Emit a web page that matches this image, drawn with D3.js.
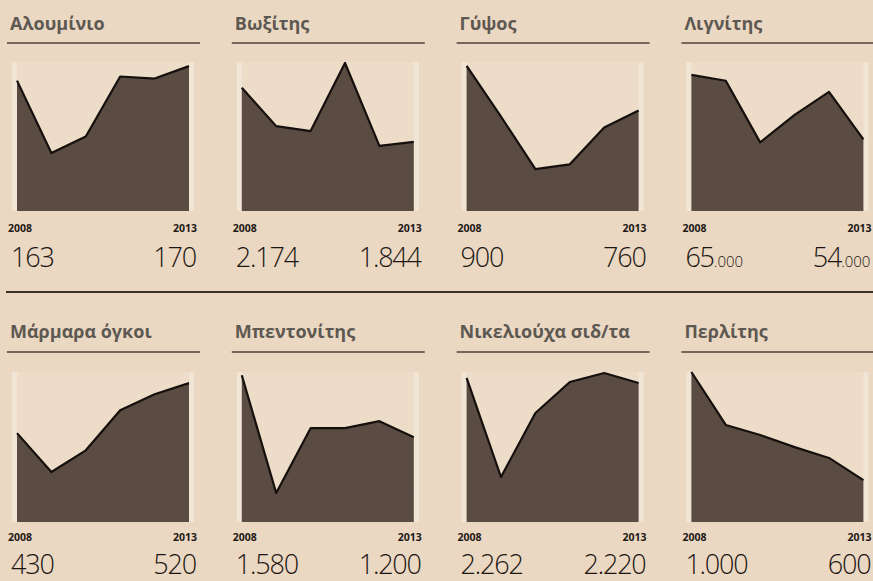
<!DOCTYPE html>
<html>
<head>
<meta charset="utf-8">
<script src="https://cdn.jsdelivr.net/npm/d3@7"></script>
<style>
  html, body { margin: 0; padding: 0; background: #ebd8c2; }
  svg { display: block; }
</style>
</head>
<body>
<div id="chart"></div>
<script>
// Minerals production 2008-2013 (small multiples)
const years = [2008, 2009, 2010, 2011, 2012, 2013];
const minerals = ["Αλουμίνιο", "Βωξίτης", "Γύψος", "Λιγνίτης",
                  "Μάρμαρα όγκοι", "Μπεντονίτης", "Νικελιούχα σιδ/τα", "Περλίτης"];

const aluminium = [163, 128, 136, 165, 164, 170];
const bauxite   = [2174, 1940, 1910, 2324, 1820, 1844];
const gypsum    = [900, 741, 577, 592, 707, 760];
const lignite   = [65000, 64000, 53500, 58200, 62100, 54000];
const marble    = [430, 360, 399, 471, 500, 520];
const bentonite = [1580, 857, 1255, 1255, 1298, 1200];
const nickel    = [2262, 1430, 1968, 2228, 2304, 2220];
const perlite   = [1000, 804, 767, 722, 682, 600];

// value at the bottom and at the top of each little plot
const domains = [[100, 172], [1424, 2330], [446, 912], [41800, 67200],
                 [270, 540], [679, 1600], [1052, 2312], [445, 1000]];

// the lignite figures are printed with a small ".000"
const smallThousands = ["Λιγνίτης"];

const series = [aluminium, bauxite, gypsum, lignite, marble, bentonite, nickel, perlite];

const width = 873, height = 581;
const locale = d3.formatLocale({ decimal: ",", thousands: ".", grouping: [3], currency: ["", "€"] });
const fmt = locale.format(",d");

const svg = d3.select("#chart").append("svg")
    .attr("width", width)
    .attr("height", height);

svg.append("rect")
    .attr("width", width)
    .attr("height", height)
    .attr("fill", "#ebd8c2");

// row layout
const rows = [
    { title: 30, rule: 43, top: 62, bottom: 211, year: 232, num: 267 },
    { title: 338, rule: 352, top: 372, bottom: 522, year: 541, num: 574 }
];
const colStep = 224.8, panelW = 193;

// separator between the rows
svg.append("line")
    .attr("x1", 6).attr("x2", width)
    .attr("y1", 292).attr("y2", 292)
    .attr("stroke", "#3b3029")
    .attr("stroke-width", 2);

minerals.forEach((name, i) => {
    const row = rows[Math.floor(i / 4)];
    const x0 = 7 + (i % 4) * colStep;
    const values = series[i];
    const g = svg.append("g").attr("transform", `translate(${x0},0)`);

    const x = d3.scalePoint()
        .domain(years)
        .range([10, 182]);

    const y = d3.scaleLinear()
        .domain(domains[i])
        .range([row.bottom, row.top]);

    // title + rule
    g.append("text")
        .attr("x", 3)
        .attr("y", row.title)
        .attr("font-family", "'Open Sans', 'DejaVu Sans', sans-serif")
        .attr("font-weight", 700)
        .attr("font-size", 18)
        .attr("fill", "#5e5852")
        .text(name);

    g.append("line")
        .attr("x1", 0).attr("x2", panelW)
        .attr("y1", row.rule).attr("y2", row.rule)
        .attr("stroke", "#4d433b")
        .attr("stroke-width", 1.3);

    // faint plot background, a little lighter at the edges
    g.append("rect")
        .attr("x", 5)
        .attr("y", row.top)
        .attr("width", 182)
        .attr("height", row.bottom - row.top)
        .attr("fill", "#ecdcc8");
    [5, 182].forEach(sx => g.append("rect")
        .attr("x", sx)
        .attr("y", row.top)
        .attr("width", 5)
        .attr("height", row.bottom - row.top)
        .attr("fill", "#f1e5d6"));

    const pts = years.map((yr, k) => ({ year: yr, value: values[k] }));

    const area = d3.area()
        .x(d => x(d.year))
        .y0(row.bottom)
        .y1(d => y(d.value));

    const line = d3.line()
        .x(d => x(d.year))
        .y(d => y(d.value));

    g.append("path")
        .datum(pts)
        .attr("d", area)
        .attr("fill", "#5a4c43");

    g.append("path")
        .datum(pts)
        .attr("d", line)
        .attr("fill", "none")
        .attr("stroke", "#15100d")
        .attr("stroke-width", 2.2)
        .attr("stroke-linejoin", "round");

    // year labels
    const yearText = (txt, xx, anchor) => g.append("text")
        .attr("x", xx)
        .attr("y", row.year)
        .attr("text-anchor", anchor)
        .attr("font-family", "'Open Sans', 'DejaVu Sans', sans-serif")
        .attr("font-weight", 700)
        .attr("font-size", 10.5)
        .attr("fill", "#1e1915")
        .text(txt);
    yearText(years[0], 1, "start");
    yearText(years[years.length - 1], 190, "end");

    // first / last values
    const numText = (v, xx, anchor) => {
        const t = g.append("text")
            .attr("x", xx)
            .attr("y", row.num)
            .attr("text-anchor", anchor)
            .attr("font-family", "'Open Sans', 'Liberation Sans', sans-serif")
            .attr("font-weight", 300)
            .attr("font-size", 27)
            .attr("letter-spacing", -1.2)
            .attr("fill", "#1c1613");
        const s = fmt(v);
        if (smallThousands.includes(name)) {
            const cut = s.indexOf(".");
            t.append("tspan").text(s.slice(0, cut));
            t.append("tspan").attr("font-size", 15).attr("letter-spacing", 0).text(s.slice(cut));
        } else {
            t.text(s);
        }
    };
    numText(values[0], 4, "start");
    numText(values[values.length - 1], 189, "end");
});
</script>
</body>
</html>
